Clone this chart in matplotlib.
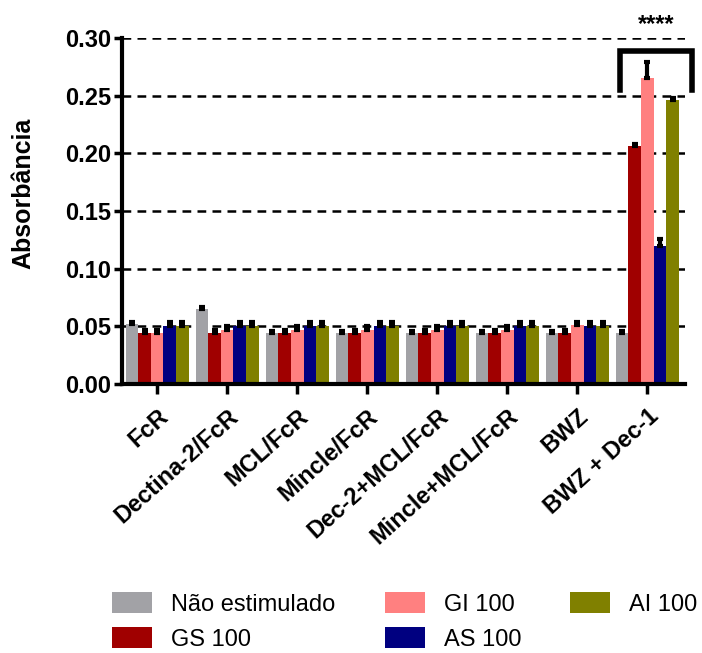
import numpy as np
import matplotlib.pyplot as plt

plt.rcParams['font.family'] = ['Liberation Sans', 'DejaVu Sans']

grupos = ['FcR', 'Dectina-2/FcR', 'MCL/FcR', 'Mincle/FcR', 'Dec-2+MCL/FcR',
          'Mincle+MCL/FcR', 'BWZ', 'BWZ + Dec-1']
series = ['Não estimulado', 'GS 100', 'GI 100', 'AS 100', 'AI 100']
cores = ['#A2A2A6', '#A00000', '#FF8080', '#000080', '#808000']

# medias por serie (uma por grupo)
nao_estim = [0.052, 0.065, 0.044, 0.044, 0.044, 0.044, 0.044, 0.044]
gs100 = [0.0445, 0.0445, 0.0445, 0.0445, 0.0445, 0.0445, 0.0445, 0.206]
gi100 = [0.0445, 0.047, 0.047, 0.047, 0.047, 0.047, 0.051, 0.265]
as100 = [0.050, 0.050, 0.050, 0.050, 0.050, 0.050, 0.050, 0.120]
ai100 = [0.050, 0.050, 0.050, 0.050, 0.050, 0.050, 0.050, 0.246]

# erro padrao
err_nao = [0.002, 0.002, 0.002, 0.002, 0.002, 0.002, 0.002, 0.002]
err_gs = [0.002, 0.002, 0.002, 0.002, 0.002, 0.002, 0.002, 0.002]
err_gi = [0.002, 0.003, 0.003, 0.003, 0.003, 0.003, 0.003, 0.014]
err_as = [0.004, 0.004, 0.004, 0.004, 0.004, 0.004, 0.004, 0.006]
err_ai = [0.004, 0.004, 0.004, 0.004, 0.004, 0.004, 0.004, 0.002]

valores = [nao_estim, gs100, gi100, as100, ai100]
erros = [err_nao, err_gs, err_gi, err_as, err_ai]

fig = plt.figure(figsize=(7.02, 6.53), dpi=100)
ax = fig.add_axes([0.174, 0.412, 0.802, 0.530])

x = np.arange(len(grupos))
w = 0.18
barras = []
for i in range(len(series)):
    pos = x + (i - 2) * w
    b = ax.bar(pos, valores[i], w, color=cores[i], label=series[i], zorder=2)
    barras.append(b)
    ax.errorbar(pos, valores[i], yerr=[np.zeros(len(grupos)), erros[i]], fmt='none',
                ecolor='black', elinewidth=3, capsize=2.5, capthick=3, zorder=3)

ax.set_ylim(0, 0.30)
ax.set_xlim(-0.5, 7.54)
ticks_y = np.arange(0, 0.301, 0.05)
ax.set_yticks(ticks_y)
ax.set_yticklabels(['%.2f' % v for v in ticks_y], fontsize=17, fontweight='bold')
ax.set_xticks(x)
ax.set_xticklabels(grupos, rotation=42, ha='right', rotation_mode='anchor',
                   fontsize=17, fontweight='bold')
ax.set_ylabel('Absorbância', fontsize=18, fontweight='bold')
ax.yaxis.set_label_coords(-0.155, 0.55)

for v in ticks_y[1:]:
    ax.axhline(v, color='black', linestyle=(0, (3.5, 2.5)), linewidth=1.8, zorder=1)

for s in ['top', 'right']:
    ax.spines[s].set_visible(False)
for s in ['left', 'bottom']:
    ax.spines[s].set_linewidth(3)
ax.tick_params(axis='y', direction='out', length=6, width=2.5, pad=2)
ax.tick_params(axis='x', direction='out', length=7, width=2.5, pad=8)

# colchete de significancia
ax.plot([6.61, 6.61, 7.64, 7.64], [0.255, 0.289, 0.289, 0.255], color='black',
        linewidth=4, clip_on=False, solid_joinstyle='miter')
ax.text(7.13, 0.302, '****', ha='center', va='bottom', fontsize=17, fontweight='bold')

# legenda: 4 primeiras em duas colunas, AI 100 a parte
opts = dict(frameon=False, fontsize=17, handlelength=1.7, handleheight=0.95,
            labelspacing=0.5, handletextpad=0.8, borderpad=0, borderaxespad=0)
fig.legend(barras[:4], series[:4], loc='upper left', bbox_to_anchor=(0.1595, 0.093),
           ncol=2, columnspacing=2.1, **opts)
fig.legend(barras[4:], series[4:], loc='upper left', bbox_to_anchor=(0.812, 0.093), **opts)

fig.savefig('out.png', dpi=100)
